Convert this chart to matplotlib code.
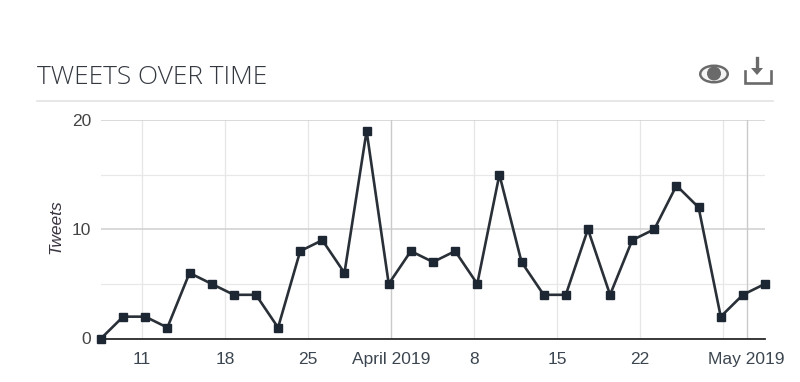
import matplotlib
matplotlib.use('Agg')
import matplotlib.pyplot as plt
from matplotlib.patches import Ellipse, Circle, PathPatch
from matplotlib.path import Path
import pandas as pd

W, H = 800, 382

# one point about every 1.87 days
start = '2019-03-07 13:00'
end = '2019-05-02 13:00'
tweets = [0, 2, 2, 1, 6, 5, 4, 4, 1, 8, 9, 6, 19, 5, 8, 7, 8, 5, 15, 7,
          4, 4, 10, 4, 9, 10, 14, 12, 2, 4, 5]
dates = pd.date_range(start, end, periods=len(tweets))

tick_dates = ['2019-03-11', '2019-03-18', '2019-03-25', '2019-04-01', '2019-04-08',
              '2019-04-15', '2019-04-22', '2019-04-29', '2019-05-01']
tick_labels = ['11', '18', '25', 'April 2019', '8', '15', '22', '', 'May 2019']
month_dates = ['2019-04-01', '2019-05-01']
y_major = [0, 10, 20]
y_minor = [5, 15]

plt.rcParams['font.family'] = ['Liberation Sans', 'DejaVu Sans']

fig = plt.figure(figsize=(W / 100, H / 100), dpi=100)
ax = fig.add_axes([101 / W, 1 - 338.5 / H, 664 / W, 218.5 / H])

ax.plot(dates, tweets, color='#2a3038', lw=1.9, marker='s', ms=6.2, mfc='#1d2733',
        mec='#1d2733', clip_on=False, zorder=5)

ax.set_xlim(dates[0], dates[-1])
ax.set_ylim(0, 20)
ax.set_xticks(pd.to_datetime(tick_dates))
ax.set_xticklabels(tick_labels)
ax.set_yticks(y_major)
ax.set_yticks(y_minor, minor=True)
ax.tick_params(axis='both', which='both', length=0)
ax.tick_params(axis='x', labelsize=12.5, labelcolor='#3c4650', pad=10)
ax.tick_params(axis='y', labelsize=12.5, labelcolor='#444444', pad=7)

ax.grid(axis='x', color='#e6e6e6', lw=0.9)
ax.grid(axis='y', which='major', color='#cfcfcf', lw=1.1)
ax.grid(axis='y', which='minor', color='#e8e8e8', lw=0.9)
for d in month_dates:
    ax.axvline(pd.Timestamp(d), color='#cacaca', lw=0.9, zorder=1)
ax.set_axisbelow(True)

for s in ['top', 'left', 'right']:
    ax.spines[s].set_visible(False)
ax.spines['bottom'].set_color('#2a2a2a')
ax.spines['bottom'].set_linewidth(1.3)

# header, drawn in picture pixels
ov = fig.add_axes([0, 0, 1, 1], zorder=-1)
ov.set_xlim(0, W)
ov.set_ylim(H, 0)
ov.axis('off')

ov.text(37, 84.5, 'TWEETS OVER TIME', family=['Open Sans', 'DejaVu Sans'], fontweight='light',
        fontsize=18.9, color='#343940', va='baseline')
ov.plot([37, 773], [101, 101], color='#e3e3e3', lw=1.2)
ov.text(55.5, 227, 'Tweets', rotation=90, style='italic', fontsize=12.5, color='#3a3340',
        ha='center', va='center')

# eye icon
icon = '#6a6a6a'
ov.add_patch(Ellipse((714, 74), 30, 19, fc=icon, ec='none'))
ov.add_patch(Ellipse((714, 74), 25, 14, fc='#f4f4f4', ec='none'))
ov.add_patch(Circle((714, 73.5), 7, fc=icon, ec='none'))

# download icon
ov.plot([744.5, 744.5, 770.5, 770.5], [71, 83, 83, 71], color=icon, lw=1.9, solid_joinstyle='miter')
ov.plot([757, 757], [58, 70], color=icon, lw=2.4)
arrow = Path([(751, 68), (763, 68), (757, 75), (751, 68)])
ov.add_patch(PathPatch(arrow, fc=icon, ec='none'))

fig.savefig('out.png', dpi=100)
